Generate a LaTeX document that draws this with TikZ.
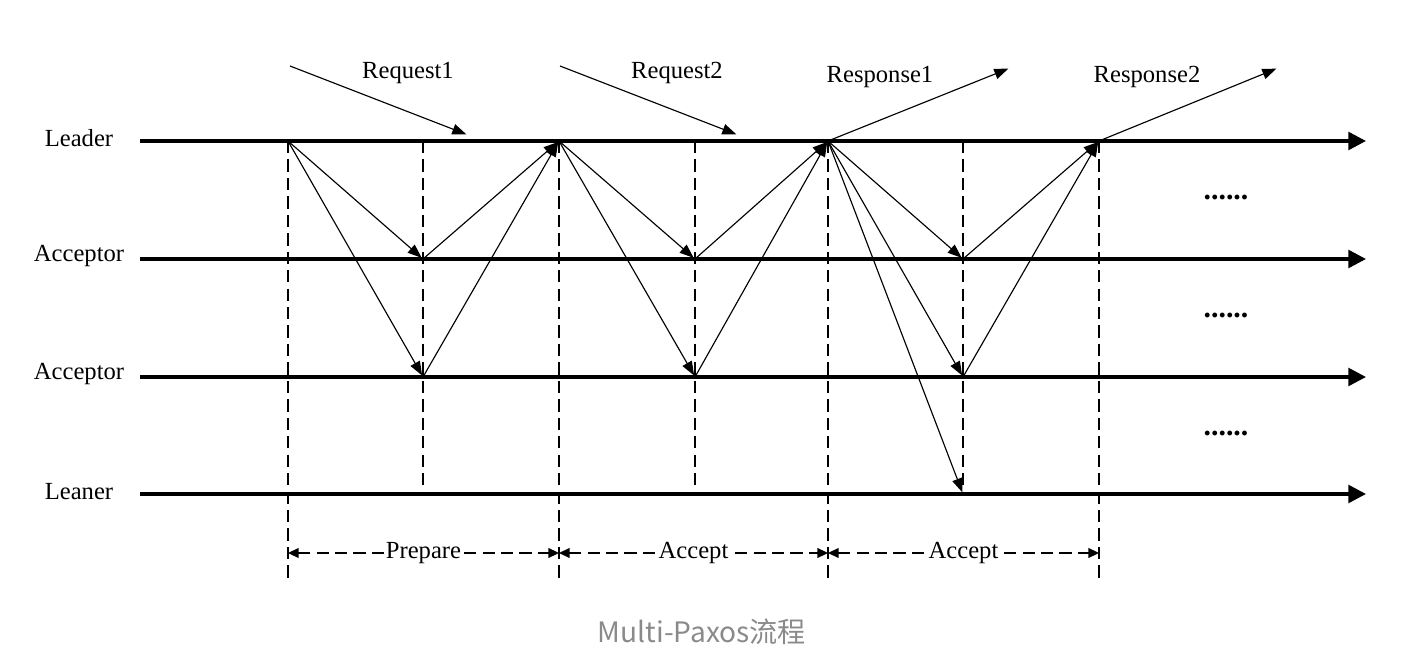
\documentclass[tikz,border=0pt]{standalone}
\usepackage{fontspec}
\setmainfont{Liberation Serif}
\newfontfamily\capfont{Noto Sans CJK SC}
\usetikzlibrary{arrows.meta}
\definecolor{capgray}{HTML}{8A8A8A}
\tikzset{
  timeline/.style={line width=2pt, -{Triangle[length=10pt,width=10pt]}},
  msg/.style={line width=0.65pt, -{Triangle[length=8pt,width=6pt]}, shorten >=1pt},
  phase/.style={line width=1pt, dash pattern=on 7pt off 3.5pt},
  span/.style={phase, {Triangle[length=6pt,width=5.5pt]}-{Triangle[length=6pt,width=5.5pt]}},
  lbl/.style={font=\fontsize{14}{16}\selectfont, inner sep=0pt},
  more/.style={font=\bfseries\fontsize{17}{18}\selectfont, inner sep=0pt},
}
\begin{document}
\begin{tikzpicture}[x=0.02cm, y=-0.02cm]
        \useasboundingbox (0,0) rectangle (1404,672);

        % roles and time lines
        \node [lbl] (leader) at (79,138) {Leader};
        \node [lbl] (acc1) at (79,256) {Acceptor};
        \node [lbl] (acc2) at (79,374) {Acceptor};
        \node [lbl] (leaner) at (79,492) {Leaner};
        \coordinate (l0) at (140,141);  \coordinate (l1) at (1366,141);
        \coordinate (a0) at (140,259);  \coordinate (a1) at (1366,259);
        \coordinate (b0) at (140,377);  \coordinate (b1) at (1366,377);
        \coordinate (n0) at (140,494);  \coordinate (n1) at (1366,494);
        \draw [timeline] (l0) -- (l1);
        \draw [timeline] (a0) -- (a1);
        \draw [timeline] (b0) -- (b1);
        \draw [timeline] (n0) -- (n1);

        % events
        \coordinate (t0) at (288,141);
        \coordinate (t1) at (559,141);
        \coordinate (t2) at (828,141);
        \coordinate (t3) at (1099,141);
        \coordinate (pa) at (423,259);  \coordinate (pb) at (423,377);
        \coordinate (qa) at (695,259);  \coordinate (qb) at (695,377);
        \coordinate (ra) at (963,259);  \coordinate (rb) at (963,377);
        \coordinate (rn) at (963,494);

        % phase borders
        \foreach \x in {288,559,828,1099}
            \draw [phase] (\x,141) -- (\x,580);
        \foreach \x in {423,695,963}
            \draw [phase] (\x,141) -- (\x,494);

        % client requests and responses
        \coordinate (rq1) at (290,66);  \coordinate (rq1e) at (468,135);
        \coordinate (rq2) at (560,66);  \coordinate (rq2e) at (738,135);
        \coordinate (rs1e) at (1010,68);
        \coordinate (rs2e) at (1278,68);
        \draw [msg] (rq1) -- (rq1e);
        \draw [msg] (rq2) -- (rq2e);
        \draw [msg] (t2) -- (rs1e);
        \draw [msg] (t3) -- (rs2e);
        \node [lbl] (req1) at (408,73) {Request1};
        \node [lbl] (req2) at (677,73) {Request2};
        \node [lbl] (resp1) at (880,77) {Response1};
        \node [lbl] (resp2) at (1147,77) {Response2};

        % prepare
        \draw [msg] (t0) -- (pa);
        \draw [msg] (t0) -- (pb);
        \draw [msg] (pa) -- (t1);
        \draw [msg] (pb) -- (t1);
        % accept 1
        \draw [msg] (t1) -- (qa);
        \draw [msg] (t1) -- (qb);
        \draw [msg] (qa) -- (t2);
        \draw [msg] (qb) -- (t2);
        % accept 2
        \draw [msg] (t2) -- (ra);
        \draw [msg] (t2) -- (rb);
        \draw [msg] (t2) -- (rn);
        \draw [msg] (ra) -- (t3);
        \draw [msg] (rb) -- (t3);

        \node [more] (dots1) at (1226,198) {......};
        \node [more] (dots2) at (1226,316) {......};
        \node [more] (dots3) at (1226,434) {......};

        % phase spans
        \coordinate (s0) at (288,553);
        \coordinate (s1) at (559,553);
        \coordinate (s2) at (828,553);
        \coordinate (s3) at (1099,553);
        \draw [span] (s0) -- node [lbl, fill=white, inner xsep=0.5pt] {Prepare} (s1);
        \draw [span] (s1) -- node [lbl, fill=white, inner xsep=0.5pt] {Accept} (s2);
        \draw [span] (s2) -- node [lbl, fill=white, inner xsep=0.5pt] {Accept} (s3);

        \node [font=\capfont\fontsize{16}{18}\selectfont, text=capgray] (caption) at (702,632) {Multi-Paxos流程};
    \end{tikzpicture}
\end{document}
